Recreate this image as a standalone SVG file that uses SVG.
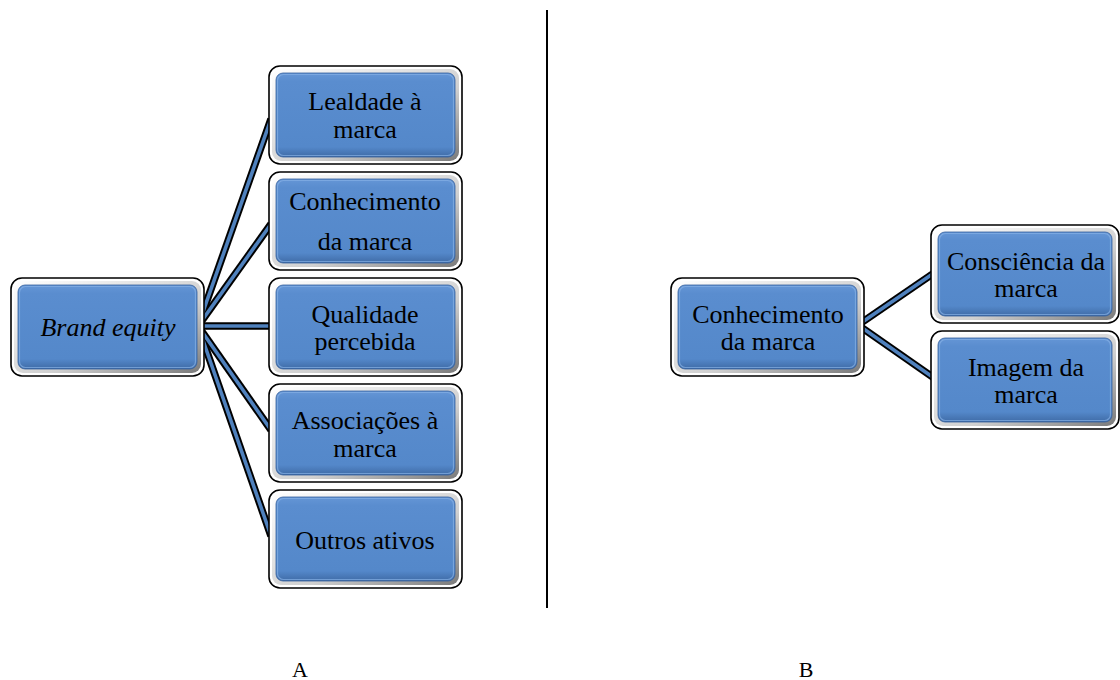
<svg xmlns="http://www.w3.org/2000/svg" width="1120" height="680" viewBox="0 0 1120 680">
  <defs>
    <linearGradient id="blueFill" x1="0" y1="0" x2="0" y2="1">
      <stop offset="0" stop-color="#6596d6"/>
      <stop offset="0.1" stop-color="#5a8dcf"/>
      <stop offset="0.88" stop-color="#5488ca"/>
      <stop offset="1" stop-color="#3f6ba6"/>
    </linearGradient>
    <linearGradient id="ringFill" x1="0" y1="0" x2="1" y2="1">
      <stop offset="0" stop-color="#ffffff"/>
      <stop offset="0.6" stop-color="#d0d0d0"/>
      <stop offset="1" stop-color="#7a7a7a"/>
    </linearGradient>
    <style>
      .frame { fill: #ffffff; stroke: #000000; stroke-width: 1.6; }
      .ring { fill: url(#ringFill); stroke: none; }
      .face { fill: url(#blueFill); stroke: #35609c; stroke-width: 0.8; }
      .hi { fill: none; stroke: #86b0e6; stroke-width: 1.2; opacity: 0.7; }
      .edgeOut { stroke: #000000; stroke-width: 7.5; fill: none; }
      .edgeIn { stroke: #4f81bd; stroke-width: 3.6; fill: none; }
      .divider { stroke: #000000; stroke-width: 2; }
    </style>
    <!-- bevelled box: white frame, grey ring, blue face -->
    <g id="box193">
      <rect class="frame" x="0" y="0" width="193" height="98" rx="11"/>
      <rect class="ring" x="3" y="3" width="187" height="92" rx="9"/>
      <rect class="face" x="7" y="7" width="179" height="84" rx="7"/>
      <rect class="hi" x="8.5" y="8.5" width="176" height="81" rx="6"/>
    </g>
    <g id="box188">
      <rect class="frame" x="0" y="0" width="188" height="98" rx="11"/>
      <rect class="ring" x="3" y="3" width="182" height="92" rx="9"/>
      <rect class="face" x="7" y="7" width="174" height="84" rx="7"/>
      <rect class="hi" x="8.5" y="8.5" width="171" height="81" rx="6"/>
    </g>
  </defs>

  <rect width="1120" height="680" fill="#ffffff"/>

  <!-- connectors -->
  <g id="connectors">
    <g class="edgeOut">
      <path d="M198,326 L271,119"/>
      <path d="M198,326 L271,224"/>
      <path d="M198,326 L271,326"/>
      <path d="M198,326 L271,430"/>
      <path d="M198,326 L271,536"/>
      <path d="M858,325 L934,273"/>
      <path d="M858,325 L934,378"/>
    </g>
    <g class="edgeIn">
      <path d="M198,326 L271,119"/>
      <path d="M198,326 L271,224"/>
      <path d="M198,326 L271,326"/>
      <path d="M198,326 L271,430"/>
      <path d="M198,326 L271,536"/>
      <path d="M858,325 L934,273"/>
      <path d="M858,325 L934,378"/>
    </g>
  </g>

  <g font-family="Liberation Serif, Times New Roman, DejaVu Serif, serif" font-size="26" fill="#000000" text-anchor="middle">
    <!-- panel A -->
    <g id="brand-equity">
      <use href="#box193" x="11" y="278"/>
      <text x="108" y="336" font-style="italic">Brand equity</text>
    </g>
    <g id="lealdade">
      <use href="#box193" x="269" y="66"/>
      <text x="365" y="110">Lealdade à</text>
      <text x="365" y="138">marca</text>
    </g>
    <g id="conhecimento-a">
      <use href="#box193" x="269" y="172"/>
      <text x="365" y="210">Conhecimento</text>
      <text x="365" y="250">da marca</text>
    </g>
    <g id="qualidade">
      <use href="#box193" x="269" y="278"/>
      <text x="365" y="323">Qualidade</text>
      <text x="365" y="350">percebida</text>
    </g>
    <g id="associacoes">
      <use href="#box193" x="269" y="384"/>
      <text x="365" y="429">Associações à</text>
      <text x="365" y="457">marca</text>
    </g>
    <g id="outros">
      <use href="#box193" x="269" y="490"/>
      <text x="365" y="549">Outros ativos</text>
    </g>

    <!-- panel B -->
    <g id="conhecimento-b">
      <use href="#box193" x="671" y="278"/>
      <text x="768" y="323">Conhecimento</text>
      <text x="768" y="350">da marca</text>
    </g>
    <g id="consciencia">
      <use href="#box188" x="931" y="225"/>
      <text x="1026" y="270">Consciência da</text>
      <text x="1026" y="297">marca</text>
    </g>
    <g id="imagem">
      <use href="#box188" x="931" y="331"/>
      <text x="1026" y="376">Imagem da</text>
      <text x="1026" y="403">marca</text>
    </g>

    <!-- panel captions -->
    <text x="300" y="677" font-size="22">A</text>
    <text x="806" y="677" font-size="22">B</text>
  </g>

  <!-- divider -->
  <line class="divider" x1="547" y1="10" x2="547" y2="608"/>
</svg>
